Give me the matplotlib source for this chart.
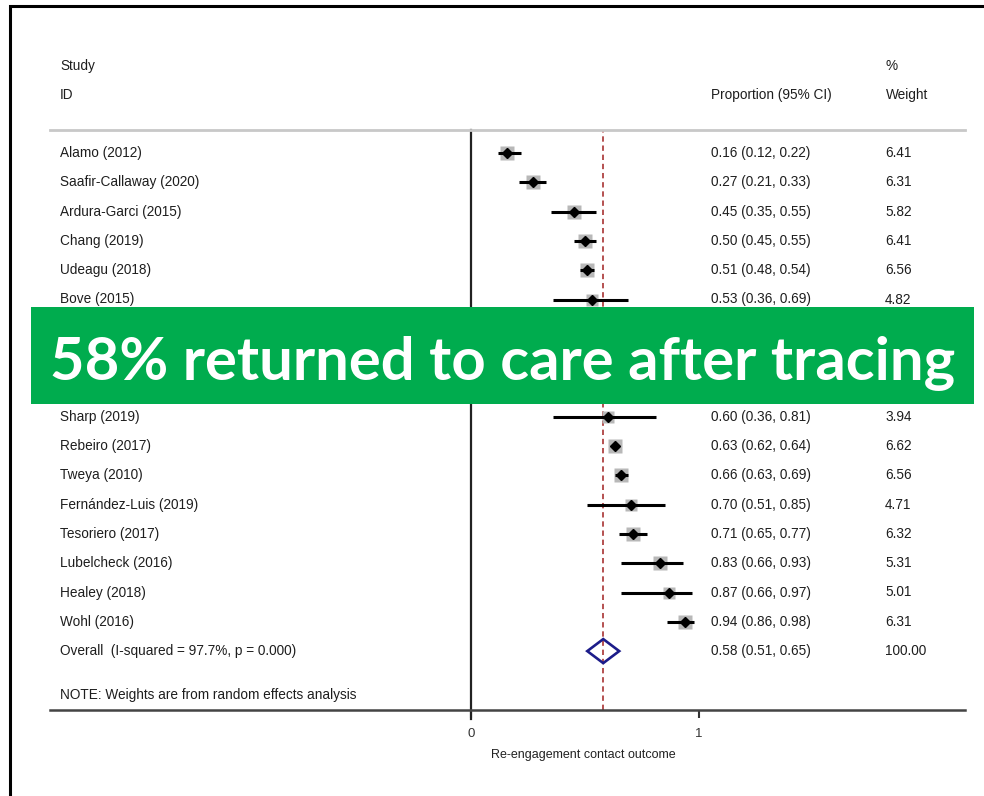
import matplotlib
matplotlib.use("Agg")
import matplotlib.pyplot as plt
from matplotlib.patches import Rectangle, Polygon

# study rows (rows 6-8 are hidden under the banner in the original)
studies = ["Alamo (2012)", "Saafir-Callaway (2020)", "Ardura-Garci (2015)", "Chang (2019)",
           "Udeagu (2018)", "Bove (2015)",
           "Sharp (2019)", "Rebeiro (2017)", "Tweya (2010)", "Fernández-Luis (2019)",
           "Tesoriero (2017)", "Lubelcheck (2016)", "Healey (2018)", "Wohl (2016)"]
rows = [0, 1, 2, 3, 4, 5, 9, 10, 11, 12, 13, 14, 15, 16]
est = [0.16, 0.27, 0.45, 0.50, 0.51, 0.53, 0.60, 0.63, 0.66, 0.70, 0.71, 0.83, 0.87, 0.94]
lo = [0.12, 0.21, 0.35, 0.45, 0.48, 0.36, 0.36, 0.62, 0.63, 0.51, 0.65, 0.66, 0.66, 0.86]
hi = [0.22, 0.33, 0.55, 0.55, 0.54, 0.69, 0.81, 0.64, 0.69, 0.85, 0.77, 0.93, 0.97, 0.98]
weights = [6.41, 6.31, 5.82, 6.41, 6.56, 4.82, 3.94, 6.62, 6.56, 4.71, 6.32, 5.31, 5.01, 6.31]

overall_row = 17
overall = (0.58, 0.51, 0.65)
overall_label = "Overall  (I-squared = 97.7%, p = 0.000)"
banner = "58% returned to care after tracing"

W, H = 984, 796
fig = plt.figure(figsize=(W / 100, H / 100), dpi=100)
fig.patch.set_facecolor("white")

# axes box in pixels: x 50..965, y 130..710 ; 0 -> 471px, 1 -> 699px
px0, px1 = 50, 965
ax = fig.add_axes([px0 / W, 1 - 710 / H, (px1 - px0) / W, (710 - 130) / H])
def xd(p):
    return (p - 471) / 228.0
row0, dy = 153, 29.3
def yd(p):
    return (p - row0) / dy
ax.set_xlim(xd(px0), xd(px1))
ax.set_ylim(yd(710), yd(130))

for s in ["left", "right"]:
    ax.spines[s].set_visible(False)
ax.spines["top"].set_color("#c8c8c8")
ax.spines["top"].set_linewidth(2)
ax.spines["bottom"].set_color("#444444")
ax.spines["bottom"].set_linewidth(1.8)
ax.set_yticks([])
ax.set_xticks([0, 1])
ax.set_xticklabels(["0", "1"])
ax.tick_params(axis="x", direction="out", length=6, width=1.5, colors="#333333",
               labelsize=9.5, pad=7)
for lab in ax.get_xticklabels():
    lab.set_fontfamily("Liberation Sans")

ax.axvline(0, ymin=-0.015, ymax=1, color="#222222", lw=1.6, clip_on=False)
ax.axvline(overall[0], color="#a02020", lw=1.1, ls=(0, (3.5, 2.5)))

txt = dict(fontsize=9.8, fontfamily="Liberation Sans", color="#1e1e1e", va="center")
xl, xc, xw = xd(60), xd(711), xd(885)

ax.text(xl, yd(66), "Study", clip_on=False, **txt)
ax.text(xl, yd(95), "ID", clip_on=False, **txt)
ax.text(xc, yd(95), "Proportion (95% CI)", clip_on=False, **txt)
ax.text(xd(886), yd(66), "%", clip_on=False, **txt)
ax.text(xd(886), yd(95), "Weight", clip_on=False, **txt)

for name, r, e, l, h, w in zip(studies, rows, est, lo, hi, weights):
    side = 5.8 * w ** 0.5 * 0.72
    ax.plot(e, r, marker="s", ms=side, color="#b8b8b8", mec="none", zorder=2)
    ax.plot([l, h], [r, r], color="black", lw=2.2, zorder=3, solid_capstyle="butt")
    ax.plot(e, r, marker="D", ms=5.2, color="black", zorder=4)
    ax.text(xl, r, name, **txt)
    ax.text(xc, r, f"{e:.2f} ({l:.2f}, {h:.2f})", **txt)
    ax.text(xw, r, f"{w:.2f}", **txt)

m, a, b = overall
ax.add_patch(Polygon([[a, overall_row], [m, overall_row - 0.41], [b, overall_row],
                      [m, overall_row + 0.41]], closed=True, fill=False,
                     edgecolor="#1c1c8a", lw=1.9, zorder=5))
ax.text(xl, overall_row, overall_label, **txt)
ax.text(xc, overall_row, f"{m:.2f} ({a:.2f}, {b:.2f})", **txt)
ax.text(xw, overall_row, "100.00", **txt)
ax.text(xl, yd(695), "NOTE: Weights are from random effects analysis", **txt)

fig.text(583 / W, 1 - 755 / H, "Re-engagement contact outcome", ha="center", va="center",
         fontsize=9, fontfamily="Liberation Sans", color="#222222")

# outer frame (left and top edges visible)
fig.patches.append(Rectangle((10 / W, -0.2), 1.2, 1.2 - 6 / H, transform=fig.transFigure,
                             fill=False, edgecolor="black", lw=2.2))

# green banner
fig.patches.append(Rectangle((31 / W, 1 - 404 / H), (974 - 31) / W, (404 - 307) / H,
                             transform=fig.transFigure, facecolor="#00ac4e",
                             edgecolor="none", zorder=10))
fig.text(503 / W, 1 - 380 / H, banner, ha="center", va="baseline", color="white",
         fontsize=43, fontweight="bold", fontfamily="Lato", zorder=11)

fig.savefig("out.png", dpi=100)
